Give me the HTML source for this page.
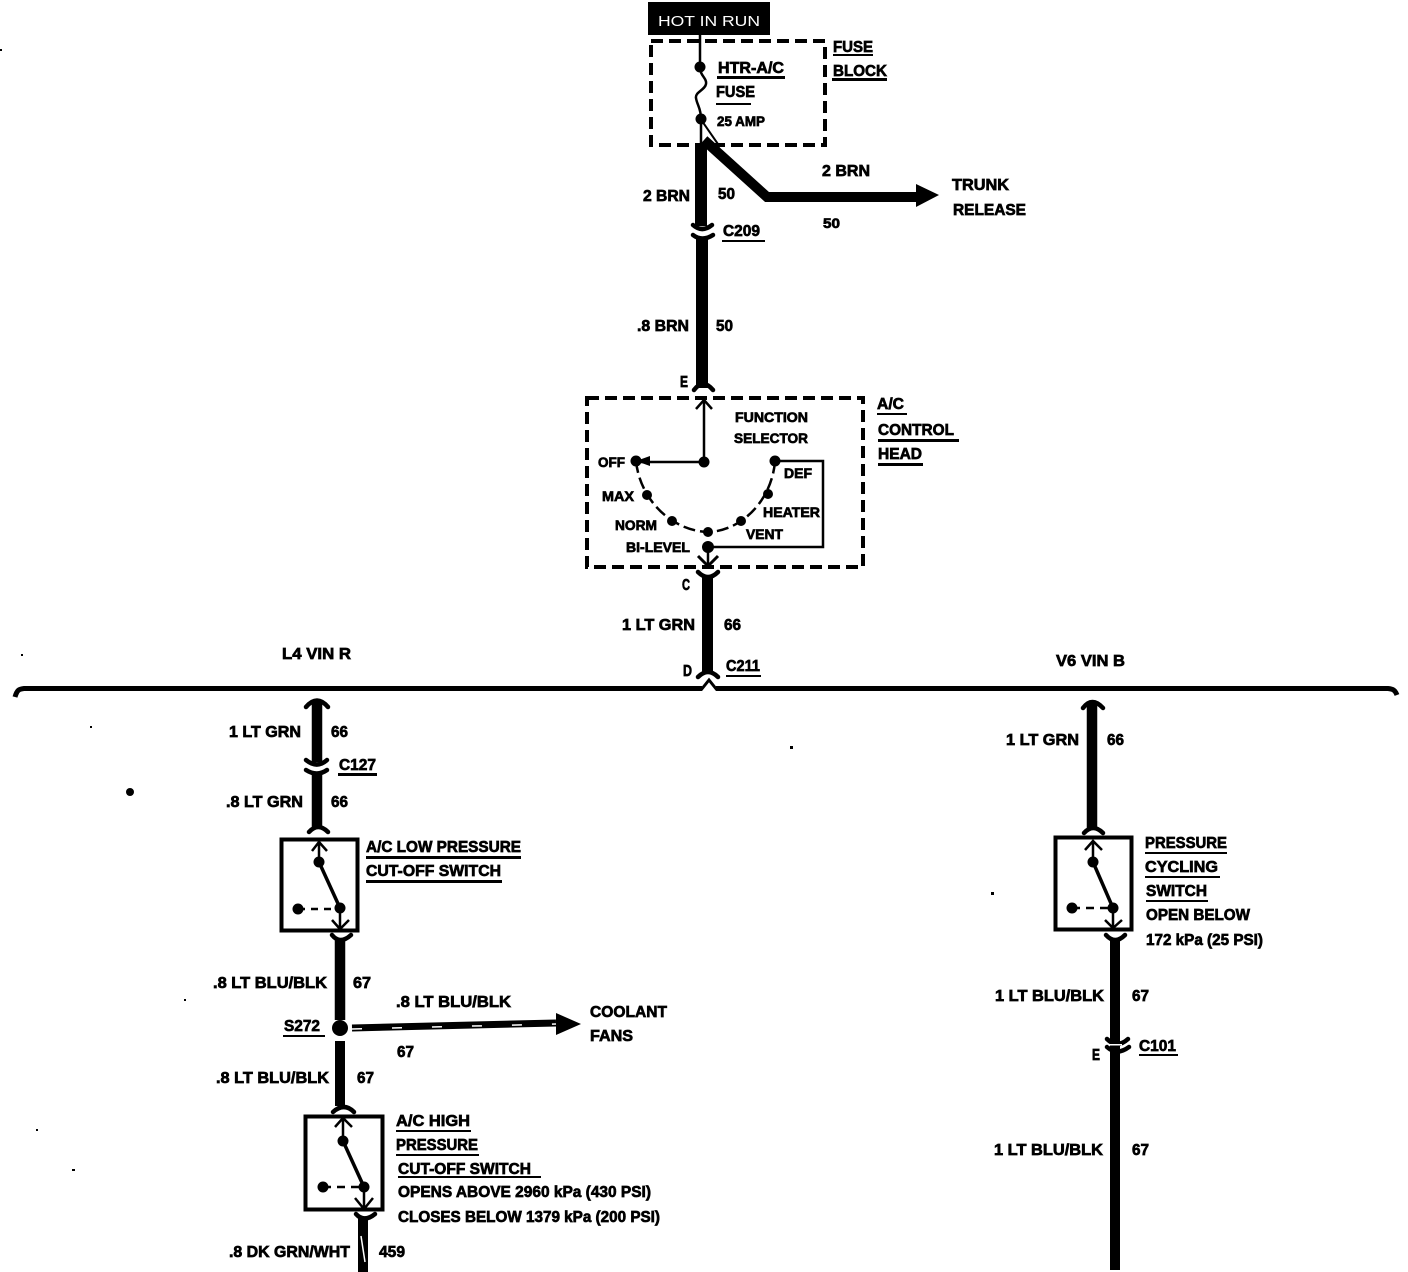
<!DOCTYPE html>
<html>
<head>
<meta charset="utf-8">
<style>
html,body{margin:0;padding:0;background:#fff;width:1408px;height:1272px;overflow:hidden}
svg{display:block}
text{font-family:"Liberation Sans",sans-serif;font-weight:700;font-size:16px;fill:#000;stroke:#000;stroke-width:.7}
.s{font-size:14px}
.w{fill:#fff;stroke:none;font-weight:400;font-size:15px}
.n{fill:none;stroke:#000}
.f{fill:none;stroke:#000;stroke-width:4.500;stroke-linecap:round}
</style>
</head>
<body>
<svg xmlns="http://www.w3.org/2000/svg" width="1408" height="1272" viewBox="0 0 1408 1272">
<rect width="1408" height="1272" fill="#fff"/>

<!-- top: hot in run / fuse block -->
<rect x="648" y="2" width="122" height="33" fill="#000"/>
<text class="w" x="658" y="26" textLength="102" lengthAdjust="spacingAndGlyphs">HOT IN RUN</text>
<rect x="651" y="41" width="174" height="104" class="n" stroke-width="4" stroke-dasharray="12 6"/>
<path d="M700 35V67C700 76 707 78 706 84C705 90 695 92 696 98C697 105 701 108 701 119V146" class="n" stroke-width="2.500"/>
<circle cx="700" cy="67" r="5.500"/><circle cx="701" cy="119" r="5.500"/>
<path d="M702 121L720 147" class="n" stroke-width="2"/>
<path d="M701 143V226" class="n" stroke-width="12"/>
<path d="M704 140L767 197H922" class="n" stroke-width="10"/>
<path d="M916 184L939 195L916 207Z"/>

<!-- C209 -->
<path d="M693 225Q702 233 712 225" class="f"/>
<path d="M693 235Q702 242 713 235" class="f"/>
<path d="M702 238V388" class="n" stroke-width="12"/>
<path d="M694 390Q703 378 713 390" class="f"/>

<!-- control head -->
<rect x="587" y="398" width="276" height="169" class="n" stroke-width="4" stroke-dasharray="12 6"/>
<path d="M704 400V462H640" class="n" stroke-width="2.500"/>
<path d="M696 409L704 400L712 409" class="n" stroke-width="2.500"/>
<path d="M636 461L650 456V466Z"/>
<path d="M636 461C640 500 672 531 708 532C742 531 772 500 775 461" class="n" stroke-width="2.500" stroke-dasharray="12 5"/>
<circle cx="636" cy="461" r="5.500"/><circle cx="704" cy="462" r="5.500"/><circle cx="775" cy="461" r="5.500"/>
<circle cx="647" cy="495" r="5"/><circle cx="672" cy="521" r="5"/><circle cx="708" cy="532" r="5"/><circle cx="741" cy="521" r="5"/><circle cx="768" cy="494" r="5"/>
<path d="M775 461H823V547H708" class="n" stroke-width="2.500"/>
<circle cx="708" cy="547" r="6"/>
<path d="M708 547V566" class="n" stroke-width="2.500"/>
<path d="M698 556L708 566L718 556" class="n" stroke-width="3"/>
<path d="M698 572Q708 582 718 572" class="f"/>
<path d="M707.500 576V674" class="n" stroke-width="11"/>
<path d="M698 677Q708 667 718 677" class="f"/>

<!-- main bus -->
<path d="M15 697C17 690 19 689 24 688.500H702M716 688.500H1388C1393 689 1395 690 1397 695" class="n" stroke-width="5"/>
<path d="M701 690L709 680L717 690" class="n" stroke-width="3"/>

<!-- L4 branch -->
<path d="M306 707Q317 694 328 707" class="f"/>
<path d="M317 702V762" class="n" stroke-width="10.500"/>
<path d="M306 760Q317 769 327 760" class="f"/>
<path d="M306 770Q317 777 327 770" class="f"/>
<path d="M317 773V828" class="n" stroke-width="10.500"/>
<path d="M309 832Q318 822 328 832" class="f"/>
<rect x="281.500" y="839.500" width="76" height="91" class="n" stroke-width="4"/>
<path d="M319 862V842M312 851L319 842L327 851" class="n" stroke-width="2.500"/>
<circle cx="319" cy="862" r="5.500"/>
<path d="M319 862L340 908" class="n" stroke-width="3.500"/>
<circle cx="340" cy="908" r="5.500"/><circle cx="298" cy="909" r="5.500"/>
<path d="M298 909H340" class="n" stroke-width="2.500" stroke-dasharray="7 6"/>
<path d="M340 908V929M332 920L340 929L349 920" class="n" stroke-width="2.500"/>
<path d="M332 935Q340 945 351 935" class="f"/>
<path d="M340 940V1020" class="n" stroke-width="10.500"/>
<circle cx="340" cy="1028" r="8"/>
<path d="M340 1041V1106" class="n" stroke-width="10"/>
<path d="M333 1112Q344 1102 354 1112" class="f"/>
<path d="M352 1028L556 1023" class="n" stroke-width="7"/>
<path d="M352 1029L556 1024" stroke="#fff" stroke-width="1.500" stroke-dasharray="10 30" fill="none"/>
<path d="M556 1013L581 1024L556 1035Z"/>
<rect x="305.500" y="1116.500" width="77" height="93" class="n" stroke-width="4"/>
<path d="M343 1141V1118M335 1127L343 1118L352 1127" class="n" stroke-width="2.500"/>
<circle cx="343" cy="1141" r="5.500"/>
<path d="M343 1141L364 1187" class="n" stroke-width="3.500"/>
<circle cx="364" cy="1187" r="5.500"/><circle cx="323" cy="1187" r="5.500"/>
<path d="M323 1187H364" class="n" stroke-width="2.500" stroke-dasharray="8 6"/>
<path d="M364 1187V1209M355 1198L364 1209L373 1198" class="n" stroke-width="2.500"/>
<path d="M356 1214Q364 1223 375 1214" class="f"/>
<path d="M363 1218V1272" class="n" stroke-width="10"/>
<path d="M361 1236L365 1262" fill="none" stroke="#fff" stroke-width="1.500"/>

<!-- V6 branch -->
<path d="M1083 708Q1092 696 1103 708" class="f"/>
<path d="M1092 702V828" class="n" stroke-width="10.500"/>
<path d="M1084 833Q1093 823 1103 833" class="f"/>
<rect x="1055.500" y="837.500" width="76" height="92" class="n" stroke-width="4"/>
<path d="M1093 862V841M1085 850L1093 841L1102 850" class="n" stroke-width="2.500"/>
<circle cx="1093" cy="862" r="5.500"/>
<path d="M1093 862L1113 908" class="n" stroke-width="3.500"/>
<circle cx="1113" cy="908" r="5.500"/><circle cx="1072" cy="908" r="5.500"/>
<path d="M1072 908H1113" class="n" stroke-width="2.500" stroke-dasharray="8 6"/>
<path d="M1113 908V928M1105 920L1113 928L1122 920" class="n" stroke-width="2.500"/>
<path d="M1106 935Q1115 945 1125 935" class="f"/>
<path d="M1115 940V1270" class="n" stroke-width="10"/>
<path d="M1107 1039Q1117 1049 1128 1039" class="f"/>
<path d="M1107 1047Q1117 1056 1129 1047" class="f"/>
<rect x="1108" y="1044" width="14" height="1.500" fill="#fff"/>

<!-- specks -->
<circle cx="130" cy="792" r="4"/>
<rect x="790" y="746" width="3" height="3"/><rect x="21" y="654" width="2" height="2"/>
<rect x="90" y="726" width="2" height="2"/><rect x="184" y="999" width="2" height="2"/>
<rect x="36" y="1129" width="2" height="2"/><rect x="72" y="1169" width="3" height="2"/>
<rect x="0" y="49" width="2" height="2"/><rect x="991" y="892" width="3" height="3"/>

<!-- underlines -->
<g fill="#000">
<rect x="833" y="54" width="40" height="2"/><rect x="832" y="78" width="55" height="3"/>
<rect x="717" y="76" width="68" height="3"/><rect x="716" y="103" width="35" height="2"/>
<rect x="722" y="240" width="43" height="2"/>
<rect x="877" y="413" width="30" height="2"/><rect x="878" y="439" width="81" height="3"/><rect x="878" y="463" width="45" height="3"/>
<rect x="726" y="675" width="35" height="2"/>
<rect x="338" y="773" width="39" height="3"/>
<rect x="366" y="856" width="155" height="3"/><rect x="366" y="880" width="136" height="3"/>
<rect x="283" y="1035" width="42" height="2"/>
<rect x="396" y="1130" width="75" height="2"/><rect x="396" y="1154" width="83" height="2"/><rect x="398" y="1176" width="143" height="2"/>
<rect x="1145" y="852" width="82" height="2"/><rect x="1145" y="876" width="75" height="2"/><rect x="1146" y="900" width="62" height="2"/>
<rect x="1139" y="1054" width="39" height="2"/>
</g>

<!-- labels -->
<g>
<text x="833" y="52" textLength="40" lengthAdjust="spacingAndGlyphs">FUSE</text>
<text x="833" y="76" textLength="54" lengthAdjust="spacingAndGlyphs">BLOCK</text>
<text x="718" y="73" textLength="66" lengthAdjust="spacingAndGlyphs">HTR-A/C</text>
<text x="716" y="97" textLength="39" lengthAdjust="spacingAndGlyphs">FUSE</text>
<text class="s" x="717" y="126" textLength="48" lengthAdjust="spacingAndGlyphs">25 AMP</text>
<text x="643" y="201" textLength="47" lengthAdjust="spacingAndGlyphs">2 BRN</text>
<text x="718" y="199" textLength="17" lengthAdjust="spacingAndGlyphs">50</text>
<text x="822" y="176" textLength="48" lengthAdjust="spacingAndGlyphs">2 BRN</text>
<text class="s" x="823" y="228" textLength="17" lengthAdjust="spacingAndGlyphs">50</text>
<text x="952" y="190" textLength="57" lengthAdjust="spacingAndGlyphs">TRUNK</text>
<text x="953" y="215" textLength="73" lengthAdjust="spacingAndGlyphs">RELEASE</text>
<text x="723" y="236" textLength="37" lengthAdjust="spacingAndGlyphs">C209</text>
<text x="637" y="331" textLength="52" lengthAdjust="spacingAndGlyphs">.8 BRN</text>
<text x="716" y="331" textLength="17" lengthAdjust="spacingAndGlyphs">50</text>
<text x="680" y="387" textLength="8" lengthAdjust="spacingAndGlyphs">E</text>
<text class="s" x="735" y="422" textLength="73" lengthAdjust="spacingAndGlyphs">FUNCTION</text>
<text class="s" x="734" y="443" textLength="74" lengthAdjust="spacingAndGlyphs">SELECTOR</text>
<text x="877" y="409" textLength="27" lengthAdjust="spacingAndGlyphs">A/C</text>
<text x="878" y="435" textLength="76" lengthAdjust="spacingAndGlyphs">CONTROL</text>
<text x="878" y="459" textLength="44" lengthAdjust="spacingAndGlyphs">HEAD</text>
<text class="s" x="598" y="467" textLength="27" lengthAdjust="spacingAndGlyphs">OFF</text>
<text class="s" x="602" y="501" textLength="32" lengthAdjust="spacingAndGlyphs">MAX</text>
<text class="s" x="615" y="530" textLength="42" lengthAdjust="spacingAndGlyphs">NORM</text>
<text class="s" x="626" y="552" textLength="64" lengthAdjust="spacingAndGlyphs">BI-LEVEL</text>
<text class="s" x="784" y="478" textLength="28" lengthAdjust="spacingAndGlyphs">DEF</text>
<text class="s" x="763" y="517" textLength="57" lengthAdjust="spacingAndGlyphs">HEATER</text>
<text class="s" x="746" y="539" textLength="37" lengthAdjust="spacingAndGlyphs">VENT</text>
<text x="682" y="590" textLength="8" lengthAdjust="spacingAndGlyphs">C</text>
<text x="622" y="630" textLength="73" lengthAdjust="spacingAndGlyphs">1 LT GRN</text>
<text x="724" y="630" textLength="17" lengthAdjust="spacingAndGlyphs">66</text>
<text x="683" y="676" textLength="9" lengthAdjust="spacingAndGlyphs">D</text>
<text x="726" y="671" textLength="34" lengthAdjust="spacingAndGlyphs">C211</text>
<text x="282" y="659" textLength="69" lengthAdjust="spacingAndGlyphs">L4 VIN R</text>
<text x="1056" y="666" textLength="69" lengthAdjust="spacingAndGlyphs">V6 VIN B</text>

<text x="229" y="737" textLength="72" lengthAdjust="spacingAndGlyphs">1 LT GRN</text>
<text x="331" y="737" textLength="17" lengthAdjust="spacingAndGlyphs">66</text>
<text x="339" y="770" textLength="37" lengthAdjust="spacingAndGlyphs">C127</text>
<text x="226" y="807" textLength="77" lengthAdjust="spacingAndGlyphs">.8 LT GRN</text>
<text x="331" y="807" textLength="17" lengthAdjust="spacingAndGlyphs">66</text>
<text x="366" y="852" textLength="155" lengthAdjust="spacingAndGlyphs">A/C LOW PRESSURE</text>
<text x="366" y="876" textLength="135" lengthAdjust="spacingAndGlyphs">CUT-OFF SWITCH</text>
<text x="213" y="988" textLength="114" lengthAdjust="spacingAndGlyphs">.8 LT BLU/BLK</text>
<text x="353" y="988" textLength="18" lengthAdjust="spacingAndGlyphs">67</text>
<text x="396" y="1007" textLength="115" lengthAdjust="spacingAndGlyphs">.8 LT BLU/BLK</text>
<text x="590" y="1017" textLength="77" lengthAdjust="spacingAndGlyphs">COOLANT</text>
<text x="590" y="1041" textLength="43" lengthAdjust="spacingAndGlyphs">FANS</text>
<text x="284" y="1031" textLength="36" lengthAdjust="spacingAndGlyphs">S272</text>
<text x="397" y="1057" textLength="17" lengthAdjust="spacingAndGlyphs">67</text>
<text x="216" y="1083" textLength="113" lengthAdjust="spacingAndGlyphs">.8 LT BLU/BLK</text>
<text x="357" y="1083" textLength="17" lengthAdjust="spacingAndGlyphs">67</text>
<text x="396" y="1126" textLength="74" lengthAdjust="spacingAndGlyphs">A/C HIGH</text>
<text x="396" y="1150" textLength="82" lengthAdjust="spacingAndGlyphs">PRESSURE</text>
<text x="398" y="1174" textLength="133" lengthAdjust="spacingAndGlyphs">CUT-OFF SWITCH</text>
<text x="398" y="1197" textLength="253" lengthAdjust="spacingAndGlyphs">OPENS ABOVE 2960 kPa (430 PSI)</text>
<text x="398" y="1222" textLength="262" lengthAdjust="spacingAndGlyphs">CLOSES BELOW 1379 kPa (200 PSI)</text>
<text x="229" y="1257" textLength="121" lengthAdjust="spacingAndGlyphs">.8 DK GRN/WHT</text>
<text x="379" y="1257" textLength="26" lengthAdjust="spacingAndGlyphs">459</text>

<text x="1006" y="745" textLength="73" lengthAdjust="spacingAndGlyphs">1 LT GRN</text>
<text x="1107" y="745" textLength="17" lengthAdjust="spacingAndGlyphs">66</text>
<text x="1145" y="848" textLength="82" lengthAdjust="spacingAndGlyphs">PRESSURE</text>
<text x="1145" y="872" textLength="73" lengthAdjust="spacingAndGlyphs">CYCLING</text>
<text x="1146" y="896" textLength="61" lengthAdjust="spacingAndGlyphs">SWITCH</text>
<text x="1146" y="920" textLength="104" lengthAdjust="spacingAndGlyphs">OPEN BELOW</text>
<text x="1146" y="945" textLength="117" lengthAdjust="spacingAndGlyphs">172 kPa (25 PSI)</text>
<text x="995" y="1001" textLength="109" lengthAdjust="spacingAndGlyphs">1 LT BLU/BLK</text>
<text x="1132" y="1001" textLength="17" lengthAdjust="spacingAndGlyphs">67</text>
<text x="1092" y="1060" textLength="8" lengthAdjust="spacingAndGlyphs">E</text>
<text x="1139" y="1051" textLength="37" lengthAdjust="spacingAndGlyphs">C101</text>
<text x="994" y="1155" textLength="109" lengthAdjust="spacingAndGlyphs">1 LT BLU/BLK</text>
<text x="1132" y="1155" textLength="17" lengthAdjust="spacingAndGlyphs">67</text>
</g>
</svg>
</body>
</html>
